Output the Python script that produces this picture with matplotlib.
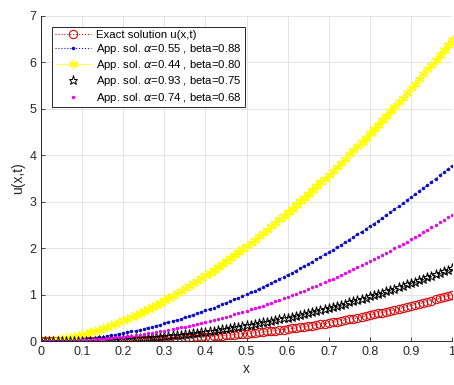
import numpy as np
import matplotlib
matplotlib.use("Agg")
import matplotlib.pyplot as plt

plt.rcParams['font.family'] = ['Liberation Sans', 'DejaVu Sans']

# x grid used in the figure (101 nodes)
x = np.round(np.arange(0, 101) * 0.01, 2)

# values
u_exact = [0.000, 0.000, 0.000, 0.000, 0.000, 0.001, 0.001, 0.001, 0.002, 0.002,
           0.003, 0.004, 0.005, 0.006, 0.007, 0.008, 0.009, 0.011, 0.013, 0.014,
           0.016, 0.018, 0.020, 0.022, 0.025, 0.028, 0.031, 0.034, 0.037, 0.041,
           0.045, 0.049, 0.053, 0.057, 0.062, 0.067, 0.072, 0.077, 0.083, 0.089,
           0.095, 0.101, 0.107, 0.114, 0.121, 0.128, 0.135, 0.142, 0.150, 0.158,
           0.166, 0.174, 0.183, 0.192, 0.201, 0.211, 0.221, 0.231, 0.242, 0.253,
           0.265, 0.276, 0.288, 0.300, 0.312, 0.325, 0.338, 0.352, 0.366, 0.380,
           0.395, 0.410, 0.425, 0.441, 0.457, 0.473, 0.490, 0.507, 0.524, 0.542,
           0.560, 0.579, 0.598, 0.617, 0.637, 0.657, 0.677, 0.698, 0.719, 0.740,
           0.762, 0.784, 0.807, 0.830, 0.853, 0.877, 0.901, 0.925, 0.950, 0.975,
           1.000]

u_a055 = [0.000, 0.001, 0.002, 0.005, 0.008, 0.013, 0.018, 0.024, 0.031, 0.039,
          0.048, 0.057, 0.067, 0.078, 0.090, 0.103, 0.116, 0.130, 0.145, 0.161,
          0.178, 0.195, 0.213, 0.232, 0.252, 0.273, 0.294, 0.316, 0.338, 0.361,
          0.384, 0.408, 0.433, 0.459, 0.486, 0.514, 0.542, 0.571, 0.601, 0.632,
          0.663, 0.694, 0.726, 0.759, 0.793, 0.828, 0.863, 0.899, 0.936, 0.974,
          1.013, 1.051, 1.090, 1.130, 1.171, 1.213, 1.255, 1.298, 1.342, 1.386,
          1.431, 1.476, 1.522, 1.569, 1.617, 1.666, 1.715, 1.765, 1.816, 1.867,
          1.919, 1.971, 2.024, 2.078, 2.133, 2.188, 2.244, 2.301, 2.358, 2.416,
          2.474, 2.533, 2.593, 2.653, 2.714, 2.776, 2.838, 2.901, 2.965, 3.030,
          3.095, 3.160, 3.226, 3.293, 3.360, 3.428, 3.497, 3.566, 3.636, 3.707,
          3.780]

u_a044 = [0.000, 0.003, 0.010, 0.019, 0.031, 0.045, 0.061, 0.078, 0.098, 0.119,
          0.142, 0.166, 0.192, 0.219, 0.248, 0.278, 0.309, 0.342, 0.376, 0.411,
          0.448, 0.487, 0.526, 0.567, 0.608, 0.651, 0.694, 0.739, 0.784, 0.831,
          0.878, 0.928, 0.979, 1.031, 1.084, 1.138, 1.193, 1.248, 1.303, 1.359,
          1.416, 1.475, 1.535, 1.596, 1.658, 1.721, 1.785, 1.850, 1.916, 1.983,
          2.051, 2.119, 2.188, 2.258, 2.329, 2.401, 2.474, 2.548, 2.623, 2.699,
          2.774, 2.851, 2.929, 3.008, 3.088, 3.169, 3.250, 3.332, 3.415, 3.499,
          3.585, 3.670, 3.756, 3.843, 3.931, 4.020, 4.109, 4.199, 4.290, 4.381,
          4.473, 4.566, 4.660, 4.755, 4.851, 4.948, 5.045, 5.143, 5.241, 5.340,
          5.440, 5.540, 5.641, 5.743, 5.846, 5.950, 6.054, 6.159, 6.265, 6.372,
          6.480]

u_a093 = [0.000, 0.000, 0.000, 0.001, 0.001, 0.002, 0.003, 0.005, 0.006, 0.008,
          0.010, 0.012, 0.014, 0.017, 0.020, 0.023, 0.027, 0.031, 0.035, 0.040,
          0.045, 0.050, 0.055, 0.061, 0.067, 0.074, 0.081, 0.088, 0.095, 0.103,
          0.111, 0.119, 0.128, 0.137, 0.146, 0.156, 0.166, 0.176, 0.187, 0.198,
          0.209, 0.220, 0.232, 0.244, 0.257, 0.270, 0.283, 0.297, 0.311, 0.326,
          0.342, 0.357, 0.373, 0.389, 0.405, 0.422, 0.439, 0.456, 0.474, 0.492,
          0.510, 0.529, 0.548, 0.568, 0.588, 0.608, 0.629, 0.650, 0.671, 0.693,
          0.716, 0.739, 0.762, 0.786, 0.810, 0.835, 0.860, 0.885, 0.911, 0.938,
          0.965, 0.992, 1.020, 1.048, 1.077, 1.106, 1.135, 1.164, 1.194, 1.224,
          1.255, 1.286, 1.317, 1.348, 1.379, 1.410, 1.441, 1.473, 1.505, 1.537,
          1.570]

u_a074 = [0.000, 0.000, 0.001, 0.002, 0.004, 0.006, 0.009, 0.012, 0.015, 0.020,
          0.024, 0.029, 0.035, 0.041, 0.048, 0.056, 0.064, 0.073, 0.082, 0.091,
          0.101, 0.111, 0.122, 0.134, 0.146, 0.159, 0.172, 0.186, 0.200, 0.215,
          0.231, 0.247, 0.264, 0.281, 0.299, 0.317, 0.336, 0.355, 0.375, 0.395,
          0.416, 0.437, 0.459, 0.482, 0.505, 0.529, 0.553, 0.578, 0.603, 0.629,
          0.657, 0.684, 0.712, 0.740, 0.769, 0.799, 0.829, 0.860, 0.891, 0.922,
          0.954, 0.987, 1.021, 1.055, 1.090, 1.125, 1.161, 1.197, 1.234, 1.271,
          1.308, 1.346, 1.385, 1.425, 1.465, 1.506, 1.548, 1.590, 1.633, 1.677,
          1.722, 1.766, 1.811, 1.857, 1.903, 1.950, 1.997, 2.045, 2.094, 2.143,
          2.193, 2.243, 2.294, 2.345, 2.397, 2.449, 2.502, 2.555, 2.609, 2.664,
          2.720]

labels = ["Exact solution u(x,t)",
          r"App. sol. $\alpha$=0.55 , beta=0.88",
          r"App. sol. $\alpha$=0.44 , beta=0.80",
          r"App. sol. $\alpha$=0.93 , beta=0.75",
          r"App. sol. $\alpha$=0.74 , beta=0.68"]

fig = plt.figure(figsize=(4.54, 3.85), dpi=100)
ax = fig.add_axes([0.0905, 0.1135, 0.905, 0.8455])

ax.plot(x, u_exact, linestyle=':', color='#d01010', marker='o', ms=6, mfc='none',
        mew=0.8, lw=0.8, label=labels[0])
ax.plot(x, u_a055, linestyle=':', color='#1010c0', marker='.', ms=3, lw=0.8,
        label=labels[1])
ax.plot(x, u_a044, linestyle='-', color='#ffff00', marker=(6, 2, 0), ms=7, mew=1.0,
        lw=0.5, label=labels[2])
ax.plot(x, u_a093, linestyle='none', color='black', marker='*', ms=6.5, mfc='none',
        mew=0.7, label=labels[3])
ax.plot(x, u_a074, linestyle='none', color='#e010e0', marker='.', ms=3,
        label=labels[4])

ax.set_xlim(0, 1)
ax.set_ylim(0, 7)
ax.set_xticks(np.arange(0, 11) / 10)
ax.set_xticklabels(['0', '0.1', '0.2', '0.3', '0.4', '0.5', '0.6', '0.7', '0.8', '0.9', '1'])
ax.set_yticks(range(0, 8))
ax.tick_params(direction='in', length=3, labelsize=9, colors='#262626', width=0.6)
ax.grid(True, color='#e0e0e0', linewidth=0.6)
ax.set_axisbelow(True)
for s in ['top', 'right']:
    ax.spines[s].set_visible(False)
for s in ['left', 'bottom']:
    ax.spines[s].set_color('#262626')
    ax.spines[s].set_linewidth(0.7)

ax.set_xlabel('x', fontsize=10, color='#262626', labelpad=3)
ax.set_ylabel('u(x,t)', fontsize=10, color='#262626', labelpad=3)

leg = ax.legend(loc='upper left', bbox_to_anchor=(0.026, 0.9665), borderaxespad=0,
                fontsize=8.2, handlelength=3.2, labelspacing=0.2, fancybox=False,
                framealpha=1, edgecolor='#262626', borderpad=0.25, handletextpad=0.45)
leg.get_frame().set_linewidth(0.7)

fig.savefig('out.png', dpi=100)
